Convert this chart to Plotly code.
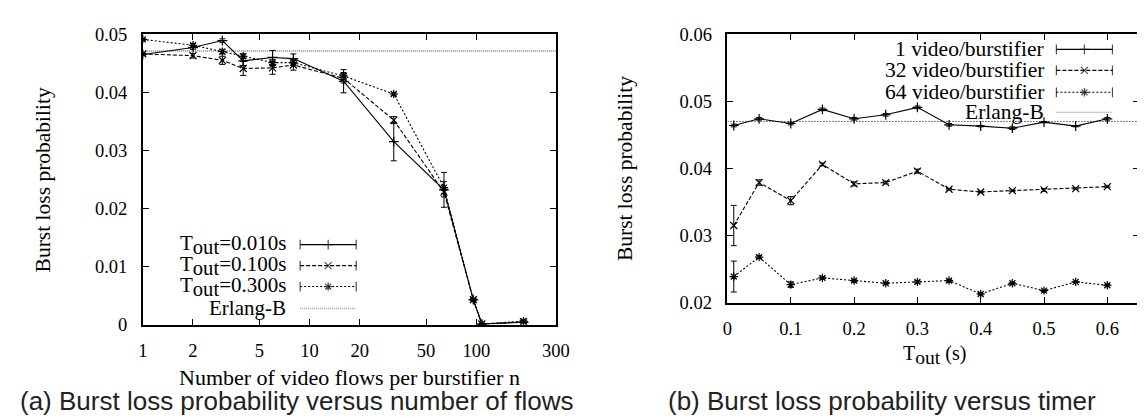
import plotly.graph_objects as go

# ---------------- data: panel (a) ----------------
flows_n = [1, 2, 3, 4, 6, 8, 16, 32, 64, 96, 108, 192]
loss_t010 = [0.0465, 0.0477, 0.0489, 0.0454, 0.0460, 0.0458, 0.0419, 0.0315, 0.0232, 0.0043, 0.0001, 0.0004]
loss_t100 = [0.0466, 0.0463, 0.0455, 0.0441, 0.0442, 0.0447, 0.0424, 0.0352, 0.0228, 0.0043, 0.0001, 0.0005]
loss_t300 = [0.0491, 0.0481, 0.0470, 0.0462, 0.0451, 0.0451, 0.0428, 0.0397, 0.0236, 0.0043, 0.0001, 0.0006]
err_t010 = [0.0002, 0.0003, 0.0003, 0.0008, 0.0012, 0.0008, 0.0020, 0.0033, 0.0030, 0.0002, 0.0001, 0.0001]
err_t100 = [0.0002, 0.0004, 0.0007, 0.0012, 0.0011, 0.0009, 0.0008, 0.0006, 0.0008, 0.0001, 0.0001, 0.0001]
err_t300 = [0.0002, 0.0003, 0.0004, 0.0004, 0.0005, 0.0004, 0.0006, 0.0002, 0.0010, 0.0002, 0.0001, 0.0001]
erlang_b = 0.0471
a_xrange = [1, 300]
a_xticks = [1, 2, 5, 10, 20, 50, 100, 300]
a_yticks = [0, 0.01, 0.02, 0.03, 0.04, 0.05]
a_yticktext = ["0", "0.01", "0.02", "0.03", "0.04", "0.05"]
SUB = "<sub><span style='font-size:1.4em'>out</span></sub>"
a_names = ["T" + SUB + "=0.010s", "T" + SUB + "=0.100s", "T" + SUB + "=0.300s", "Erlang-B"]

# ---------------- data: panel (b) ----------------
t_out = [0.01, 0.05, 0.1, 0.15, 0.2, 0.25, 0.3, 0.35, 0.4, 0.45, 0.5, 0.55, 0.6]
loss_v1 = [0.0464, 0.0474, 0.0467, 0.0488, 0.0474, 0.0480, 0.0491, 0.0465, 0.0463, 0.0460, 0.0469, 0.0463, 0.0474]
loss_v32 = [0.0315, 0.0379, 0.0352, 0.0406, 0.0377, 0.0379, 0.0396, 0.0369, 0.0365, 0.0367, 0.0368, 0.0370, 0.0373]
loss_v64 = [0.0239, 0.0268, 0.0227, 0.0237, 0.0233, 0.0229, 0.0231, 0.0233, 0.0213, 0.0229, 0.0218, 0.0231, 0.0226]
err_v1 = [0.0002, 0.0002, 0.0002, 0.0002, 0.0002, 0.0002, 0.0002, 0.0002, 0.0001, 0.0002, 0.0001, 0.0001, 0.0002]
err_v32 = [0.0030, 0.0004, 0.0006, 0.0002, 0.0003, 0.0002, 0.0003, 0.0001, 0.0001, 0.0001, 0.0002, 0.0001, 0.0001]
err_v64 = [0.0023, 0.0002, 0.0004, 0.0002, 0.0002, 0.0001, 0.0002, 0.0002, 0.0001, 0.0001, 0.0001, 0.0001, 0.0001]
erlang_b_b = 0.0470
b_xrange = [0, 0.65]
b_xticks = [0, 0.1, 0.2, 0.3, 0.4, 0.5, 0.6]
b_xticktext = ["0", "0.1", "0.2", "0.3", "0.4", "0.5", "0.6"]
b_yticks = [0.02, 0.03, 0.04, 0.05, 0.06]
b_yticktext = ["0.02", "0.03", "0.04", "0.05", "0.06"]
b_names = ["1 video/burstifier", "32 video/burstifier", "64 video/burstifier", "Erlang-B"]

W, H = 1145, 419
SERIF = "Liberation Serif"
SANS = "Liberation Sans"

styles = [
    dict(dash="solid", symbol="cross-thin"),
    dict(dash="4px,2px", symbol="x-thin"),
    dict(dash="2px,2px", symbol="asterisk"),
]

fig = go.Figure()

def add_series(x, y, e, st, xa, ya):
    fig.add_trace(go.Scatter(
        x=x, y=y, mode="lines+markers", xaxis=xa, yaxis=ya, showlegend=False,
        line=dict(color="black", width=1.1, dash=st["dash"]),
        marker=dict(symbol=st["symbol"], size=7, color="black",
                    line=dict(color="black", width=1.2)),
        error_y=dict(type="data", array=e, visible=True, color="black",
                     thickness=1, width=3),
    ))

# panel (a)
fig.add_trace(go.Scatter(x=a_xrange, y=[erlang_b, erlang_b], mode="lines",
                         xaxis="x", yaxis="y", showlegend=False,
                         line=dict(color="#a0a0a0", width=2, dash="1px,1px")))
for y, e, st in zip([loss_t010, loss_t100, loss_t300], [err_t010, err_t100, err_t300], styles):
    add_series(flows_n, y, e, st, "x", "y")

# panel (b)
fig.add_trace(go.Scatter(x=b_xrange, y=[erlang_b_b, erlang_b_b], mode="lines",
                         xaxis="x2", yaxis="y2", showlegend=False,
                         line=dict(color="black", width=1, dash="1px,2px")))
for y, e, st in zip([loss_v1, loss_v32, loss_v64], [err_v1, err_v32, err_v64], styles):
    add_series(t_out, y, e, st, "x2", "y2")

# ---------- manual gnuplot-style legends (overlay axis in pixel units) ----------
def legend(names, text_right, x0, x1, rows, erl_color, erl_width, size):
    xm = (x0 + x1) / 2
    for i, name in enumerate(names):
        yy = rows[i]
        if i < 3:
            st = styles[i]
            fig.add_trace(go.Scatter(
                x=[x0, xm, x1], y=[yy, yy, yy], mode="lines+markers",
                xaxis="x3", yaxis="y3", showlegend=False, hoverinfo="skip",
                line=dict(color="black", width=1.1, dash=st["dash"]),
                marker=dict(symbol=["line-ns", st["symbol"], "line-ns"], size=[7, 7, 7],
                            color="black", line=dict(color="black", width=1.2)),
            ))
        else:
            fig.add_trace(go.Scatter(
                x=[x0, x1], y=[yy, yy], mode="lines", xaxis="x3", yaxis="y3",
                showlegend=False, hoverinfo="skip",
                line=dict(color=erl_color, width=erl_width, dash="1px,1px"),
            ))
        fig.add_annotation(x=text_right / W, y=1 - yy / H, xref="paper", yref="paper",
                           text=name, showarrow=False, xanchor="right", yanchor="middle",
                           borderpad=0,
                           font=dict(family=SERIF, size=size, color="black"))

legend(a_names, 279, 292, 349, [238, 260, 282, 305], "#a0a0a0", 1.5, 21)
legend(b_names, 1049, 1061, 1118, [33, 55, 78, 99], "#777777", 1, 21.5)

axis_common = dict(showline=True, linecolor="black", linewidth=1.5, mirror="allticks",
                   ticks="inside", ticklen=6, tickcolor="black", tickwidth=1,
                   showgrid=False, zeroline=False,
                   tickfont=dict(family=SERIF, size=18.5, color="black"))

fig.update_layout(
    width=W, height=H, margin=dict(l=0, r=0, t=0, b=0),
    paper_bgcolor="white", plot_bgcolor="rgba(0,0,0,0)",
    xaxis=dict(axis_common, type="log", range=[0, 2.4771], domain=[132 / W, 552 / W],
               anchor="y", tickvals=a_xticks, ticktext=[str(v) for v in a_xticks],
               ticklabelstandoff=8),
    yaxis=dict(axis_common, range=[0, 0.05], domain=[1 - 322 / H, 1 - 17 / H],
               anchor="x", tickvals=a_yticks, ticktext=a_yticktext, ticklabelstandoff=10),
    xaxis2=dict(axis_common, range=b_xrange, domain=[726.5 / W, 1.0], anchor="y2",
                tickvals=b_xticks, ticktext=b_xticktext, ticklabelstandoff=8),
    yaxis2=dict(axis_common, range=[0.02, 0.06], domain=[1 - 299 / H, 1 - 17 / H],
                anchor="x2", tickvals=b_yticks, ticktext=b_yticktext, ticklabelstandoff=10),
    xaxis3=dict(range=[0, W], domain=[0, 1], visible=False, fixedrange=True, anchor="y3"),
    yaxis3=dict(range=[H, 0], domain=[0, 1], visible=False, fixedrange=True, anchor="x3"),
)

def ann(x, y, text, size, family, angle=0, color="black"):
    fig.add_annotation(x=x / W, y=1 - y / H, xref="paper", yref="paper", text=text,
                       showarrow=False, textangle=angle, xanchor="center", yanchor="middle",
                       font=dict(family=family, size=size, color=color))

ann(30, 170, "Burst loss probability", 21.5, SERIF, -90)
ann(342, 377, "Number of video flows per burstifier n", 22, SERIF)
ann(623, 158, "Burst loss probability", 21.5, SERIF, -90)
ann(937, 354, "T" + SUB + " (s)", 20, SERIF)
ann(288, 402, "(a) Burst loss probability versus number of flows", 26, SANS, 0, "#222222")
ann(884, 402, "(b) Burst loss probability versus timer", 26, SANS, 0, "#222222")

fig.write_html("out.html")
